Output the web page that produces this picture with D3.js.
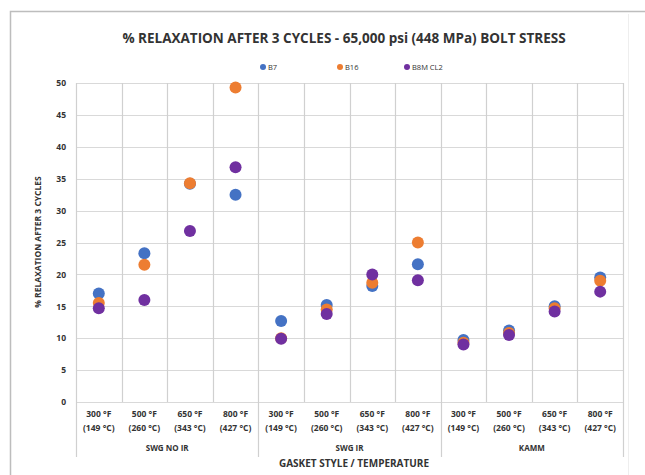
<!DOCTYPE html>
<html>
<head>
<meta charset="utf-8">
<script src="https://cdn.jsdelivr.net/npm/d3@7"></script>
<style>
  body { margin: 0; background: #fff; }
  text { font-family: "Open Sans", "Liberation Sans", sans-serif; fill: #333; font-weight: bold; }
</style>
</head>
<body>
<svg width="645" height="475"></svg>
<script>
// data
var groups = ["SWG NO IR", "SWG IR", "KAMM"];
var tempsF = ["300 °F", "500 °F", "650 °F", "800 °F"];
var tempsC = ["(149 °C)", "(260 °C)", "(343 °C)", "(427 °C)"];
var seriesNames = ["B7", "B16", "B8M CL2"];
var seriesColors = ["#4472c4", "#ed7d31", "#7030a0"];
var b7 = [17.0, 23.3, 34.2, 32.5, 12.7, 15.2, 18.2, 21.6, 9.7, 11.2, 15.0, 19.5];
var b16 = [15.5, 21.5, 34.3, 49.3, 10.0, 14.5, 18.7, 25.0, 9.3, 10.8, 14.7, 19.0];
var b8m = [14.7, 16.0, 26.8, 36.8, 9.9, 13.8, 20.0, 19.1, 9.0, 10.5, 14.2, 17.3];
var yTicks = [0, 5, 10, 15, 20, 25, 30, 35, 40, 45, 50];

var svg = d3.select("svg");

// outer frame
svg.append("rect").attr("x", 10.5).attr("y", 11.5).attr("width", 650).attr("height", 480)
  .attr("fill", "none").attr("stroke", "#bdbdbd").attr("stroke-width", 1.5);
svg.append("line").attr("x1", 628.5).attr("x2", 628.5).attr("y1", 14).attr("y2", 475)
  .attr("stroke", "#eee");

var margin = { left: 76, top: 83, right: 623, bottom: 402 };

// category index 0..11
var cats = d3.range(12);
var x = d3.scaleBand().domain(cats).range([margin.left, margin.right]);
var y = d3.scaleLinear().domain([0, 50]).range([margin.bottom, margin.top]);

// horizontal gridlines
svg.append("g").selectAll("line").data(yTicks).enter().append("line")
  .attr("x1", margin.left).attr("x2", margin.right)
  .attr("y1", d => Math.round(y(d)) + 0.5).attr("y2", d => Math.round(y(d)) + 0.5)
  .attr("stroke", "#d9d9d9").attr("stroke-width", 1.2);

// vertical gridlines between categories
svg.append("g").selectAll("line").data(d3.range(13)).enter().append("line")
  .attr("x1", d => Math.round(margin.left + d * x.bandwidth()) + 0.5)
  .attr("x2", d => Math.round(margin.left + d * x.bandwidth()) + 0.5)
  .attr("y1", margin.top)
  .attr("y2", d => (d % 4 == 0) ? 457 : margin.bottom)
  .attr("stroke", "#d0d0d0").attr("stroke-width", 1.2);

// y axis labels
var yAxis = d3.axisLeft(y).tickValues(yTicks).tickSize(0).tickPadding(10);
var gy = svg.append("g").attr("transform", "translate(" + margin.left + ",0)").call(yAxis);
gy.select(".domain").remove();
gy.selectAll("text").style("font-size", "8.5px").attr("fill", "#333");

// category labels (two lines)
var xl = svg.append("g");
xl.selectAll(".tf").data(cats).enter().append("text")
  .attr("x", d => x(d) + x.bandwidth() / 2).attr("y", 417)
  .attr("text-anchor", "middle").style("font-size", "8.5px")
  .text(d => tempsF[d % 4]);
xl.selectAll(".tc").data(cats).enter().append("text")
  .attr("x", d => x(d) + x.bandwidth() / 2).attr("y", 431)
  .attr("text-anchor", "middle").style("font-size", "8.5px")
  .text(d => tempsC[d % 4]);
xl.selectAll(".grp").data(groups).enter().append("text")
  .attr("x", (d, i) => x(i * 4) + 2 * x.bandwidth()).attr("y", 451)
  .attr("text-anchor", "middle").style("font-size", "8px")
  .text(d => d);

// axis titles
svg.append("text").attr("x", 354).attr("y", 467)
  .attr("text-anchor", "middle").style("font-size", "10px").text("GASKET STYLE / TEMPERATURE");
svg.append("text").attr("transform", "translate(41,242) rotate(-90)")
  .attr("text-anchor", "middle").style("font-size", "8.5px").text("% RELAXATION AFTER 3 CYCLES");

// title
svg.append("text").attr("x", 344).attr("y", 43).attr("text-anchor", "middle")
  .style("font-size", "13.5px").text("% RELAXATION AFTER 3 CYCLES - 65,000 psi (448 MPa) BOLT STRESS");

// legend
var legX = [263, 340, 407];
var leg = svg.append("g").selectAll("g").data(seriesNames).enter().append("g")
  .attr("transform", (d, i) => "translate(" + legX[i] + ",67)");
leg.append("circle").attr("r", 3).attr("fill", (d, i) => seriesColors[i]);
leg.append("text").attr("x", 5).attr("y", 3).style("font-size", "7.5px").style("font-weight", "normal")
  .text(d => d);

// points
var allSeries = [b7, b16, b8m];
allSeries.forEach(function (vals, si) {
  svg.append("g").selectAll("circle").data(vals).enter().append("circle")
    .attr("cx", (d, i) => x(i) + x.bandwidth() / 2)
    .attr("cy", d => y(d))
    .attr("r", 6)
    .attr("fill", seriesColors[si]);
});
</script>
</body>
</html>
